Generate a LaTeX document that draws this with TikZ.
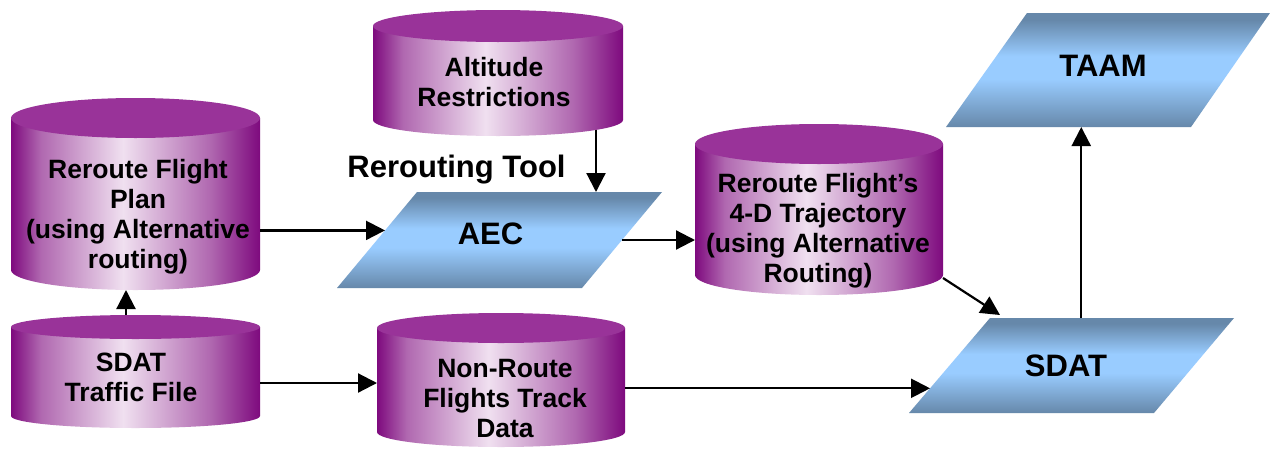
\documentclass[tikz,border=0pt]{standalone}
\usepackage{fontspec}
\setmainfont{Liberation Sans}
\usetikzlibrary{arrows.meta,calc}
\definecolor{cdark}{HTML}{7E0A7E}
\definecolor{cmid}{HTML}{B068B0}
\definecolor{clight}{HTML}{F0E0F0}
\definecolor{ctop}{HTML}{993399}
\definecolor{pdark}{HTML}{6688AA}
\definecolor{plight}{HTML}{99CCFF}
\pgfdeclarehorizontalshading{cylbody}{100bp}{color(0bp)=(cdark); color(25bp)=(cdark); color(31bp)=(cmid); color(47.5bp)=(clight); color(65bp)=(cmid); color(75bp)=(cdark); color(100bp)=(cdark)}
\pgfdeclareverticalshading{parash}{100bp}{color(0bp)=(pdark); color(25bp)=(pdark); color(46bp)=(plight); color(56bp)=(plight); color(72bp)=(pdark); color(100bp)=(pdark)}
\newcommand\dbcyl[6]{%
  \pgfmathsetmacro\cyx{(#2+#3)/2}%
  \pgfmathsetmacro\cyr{(#3-#2)/2}%
  \pgfmathsetmacro\cyy{(#4+#5)/2}%
  \pgfmathsetmacro\cyw{#3-#2}%
  \pgfmathsetmacro\cyh{#5-#4+2*#6}%
  \path[shade,shading=cylbody] (#2,#4) -- (#2,#5) arc[start angle=180,end angle=360,x radius=\cyr pt,y radius=#6pt] -- (#3,#4) -- cycle;
  \fill[ctop] (\cyx,#4) ellipse[x radius=\cyr pt,y radius=#6pt];
  \node[anc,minimum width=\cyw pt,minimum height=\cyh pt] (#1) at (\cyx,\cyy) {};
}
\newcommand\para[7]{%
  \coordinate (#1-tl) at (#2,#6);
  \coordinate (#1-tr) at (#3,#6);
  \coordinate (#1-bl) at (#4,#7);
  \coordinate (#1-br) at (#5,#7);
  \path[shade,shading=parash] (#1-tl) -- (#1-tr) -- (#1-br) -- (#1-bl) -- cycle;
}
\begin{document}
\begin{tikzpicture}[x=1pt,y=-1pt,
  arr/.style={line width=2.2pt,-{Triangle[length=19pt,width=19pt]}},
  lbl/.style={font=\fontsize{26.5}{30}\selectfont\bfseries,align=center,inner sep=0pt},
  big/.style={font=\fontsize{31}{36}\selectfont\bfseries,inner sep=0pt},
  anc/.style={inner sep=0pt,outer sep=0pt,draw=none}]
\useasboundingbox[fill=white] (0,0) rectangle (1271,450);
% data stores
\dbcyl{plan}{11}{260}{118}{270}{20}
\dbcyl{traffic}{11}{260}{327}{416}{12}
\dbcyl{alt}{373}{623}{26}{120}{16}
\dbcyl{nonroute}{377}{625}{328}{432}{15}
\dbcyl{traj}{695}{943}{144}{275}{20}
% processes
\para{aecp}{417}{662}{337}{582}{192}{288}
\para{taamp}{1027}{1270}{946}{1191}{13}{127}
\para{sdatp}{990}{1234}{909}{1154}{318}{413}
% texts
\node[lbl] (plan-t) at (138,216.5) {Reroute Flight\\Plan\\(using Alternative\\routing)};
\node[lbl] (traffic-t) at (131,377.7) {SDAT\\Traffic File};
\node[lbl] (alt-t) at (494,81.7) {Altitude\\Restrictions};
\node[lbl] (nonroute-t) at (505,398.7) {Non-Route\\Flights Track\\Data};
\node[lbl] (traj-t) at (818,230.5) {Reroute Flight’s\\4-D Trajectory\\(using Alternative\\Routing)};
\node[big,anchor=base] (tool) at (456.5,177) {Rerouting Tool};
\node[big] (aec) at (490.5,233.9) {AEC};
\node[big] (taam) at (1103,65.9) {TAAM};
\node[big] (sdat) at (1066,365.9) {SDAT};
% connector points
\coordinate (p1) at ($(aecp-bl)!0.6!(aecp-tl)$);
\coordinate (p2) at ($(alt.south)+(98,-6)$);
\coordinate (p3) at ($(aecp-br)!0.5!(aecp-tr)$);
\coordinate (p4) at ($(traj.south east)+(0,-17)$);
\coordinate (p5) at ($(sdatp-bl)!0.26!(sdatp-tl)$);
\coordinate (p6) at ($(sdatp-tl)!0.374!(sdatp-tr)$);
\coordinate (p7) at ($(traffic.east |- nonroute.west)+(0,3)$);
% connectors
\draw[arr] (plan.east |- p1) -- (p1);
\draw[arr] ([xshift=-9.5pt]traffic.north) -- ([xshift=-9.5pt]plan.south);
\draw[arr] (p7) -- (nonroute.west |- p7);
\draw[arr] (p2) -- (p2 |- aecp-tl);
\draw[arr] (p3) -- (traj.west |- p3);
\draw[arr] (p4) -- ($(sdatp-tl)+(10,-3)$);
\draw[arr] (nonroute.east |- p5) -- (p5);
\draw[arr] (p6) -- (p6 |- taamp-bl);
\end{tikzpicture}
\end{document}
